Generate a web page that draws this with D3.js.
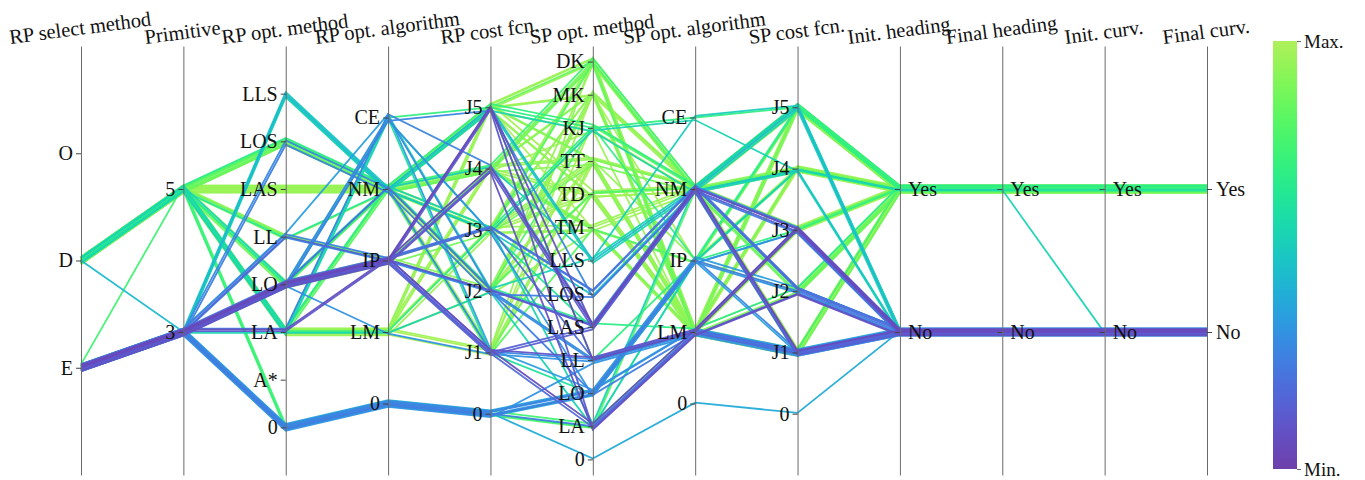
<!DOCTYPE html>
<html>
<head>
<meta charset="utf-8">
<script src="https://cdn.jsdelivr.net/npm/d3@7"></script>
<style>
  body { margin: 0; background: #fff; }
  svg { display: block; }
  text { font-family: "Liberation Serif", "Times New Roman", serif; fill: #111; }
</style>
</head>
<body>
<svg id="chart" width="1365" height="480"></svg>
<script>
// Dimensions of the survey, left to right
const dimensions = [
  "RP select method", "Primitive", "RP opt. method", "RP opt. algorithm",
  "RP cost fcn.", "SP opt. method", "SP opt. algorithm", "SP cost fcn.",
  "Init. heading", "Final heading", "Init. curv.", "Final curv."
];

// Category ticks of each dimension, top to bottom
const rpSelectTicks   = ["O", "D", "E"];
const primitiveTicks  = ["5", "3"];
const rpMethodTicks   = ["LLS", "LOS", "LAS", "LL", "LO", "LA", "A*", "0"];
const rpAlgoTicks     = ["CE", "NM", "IP", "LM", "0"];
const rpCostTicks     = ["J5", "J4", "J3", "J2", "J1", "0"];
const spMethodTicks   = ["DK", "MK", "KJ", "TT", "TD", "TM", "LLS", "LOS", "LAS", "LL", "LO", "LA", "0"];
const spAlgoTicks     = ["CE", "NM", "IP", "LM", "0"];
const spCostTicks     = ["J5", "J4", "J3", "J2", "J1", "0"];
const yesNoTicks      = ["Yes", "No"];
const colorBarTicks   = ["Max.", "Min."];

const tickSets = [
  rpSelectTicks, primitiveTicks, rpMethodTicks, rpAlgoTicks, rpCostTicks,
  spMethodTicks, spAlgoTicks, spCostTicks, yesNoTicks, yesNoTicks, yesNoTicks, yesNoTicks
];

// One row per surveyed approach (values in dimension order)
const records = [
  ["D","5","LAS","NM","J5","DK","NM","J5","Yes","Yes","Yes","Yes"],
  ["D","5","LAS","NM","J5","MK","LM","J1","Yes","Yes","Yes","Yes"],
  ["D","5","LAS","NM","J5","KJ","NM","J4","Yes","Yes","Yes","Yes"],
  ["D","5","LAS","NM","J5","TT","LM","J4","Yes","Yes","Yes","Yes"],
  ["D","5","LAS","NM","J4","TD","NM","J4","Yes","Yes","Yes","Yes"],
  ["D","5","LAS","NM","J4","MK","NM","J3","Yes","Yes","Yes","Yes"],
  ["D","5","LAS","NM","J3","TD","LM","J1","Yes","Yes","Yes","Yes"],
  ["D","5","LAS","NM","J3","TM","NM","J5","Yes","Yes","Yes","Yes"],
  ["D","5","LAS","NM","J3","TT","LM","J3","Yes","Yes","Yes","Yes"],
  ["D","5","LAS","NM","J1","DK","LM","J2","Yes","Yes","Yes","Yes"],
  ["D","5","LOS","NM","J5","DK","NM","J4","Yes","Yes","Yes","Yes"],
  ["D","5","LOS","NM","J5","TD","LM","J5","Yes","Yes","Yes","Yes"],
  ["D","5","LOS","NM","J4","MK","LM","J4","Yes","Yes","Yes","Yes"],
  ["D","5","LOS","NM","J3","TM","LM","J1","Yes","Yes","Yes","Yes"],
  ["D","5","LOS","NM","J2","KJ","NM","J5","Yes","Yes","Yes","Yes"],
  ["D","5","LOS","NM","J3","DK","NM","J2","Yes","Yes","Yes","Yes"],
  ["D","5","LA","LM","J5","DK","LM","J5","Yes","Yes","Yes","Yes"],
  ["D","5","LA","LM","J5","MK","NM","J4","Yes","Yes","Yes","Yes"],
  ["D","5","LA","LM","J4","TT","NM","J1","Yes","Yes","Yes","Yes"],
  ["D","5","LA","LM","J4","TD","LM","J4","Yes","Yes","Yes","Yes"],
  ["D","5","LA","LM","J3","TM","LM","J1","Yes","Yes","Yes","Yes"],
  ["D","5","LA","LM","J3","KJ","IP","J5","Yes","Yes","Yes","Yes"],
  ["D","5","LA","LM","J1","TT","LM","J2","Yes","Yes","Yes","Yes"],
  ["D","5","LA","NM","J2","TD","NM","J3","Yes","Yes","Yes","Yes"],
  ["D","5","LA","NM","J1","TM","IP","J4","Yes","Yes","Yes","Yes"],
  ["D","5","LA","CE","J2","LLS","NM","J5","No","No","No","No"],
  ["D","5","LO","NM","J3","DK","NM","J5","Yes","Yes","Yes","Yes"],
  ["D","5","LO","IP","J2","MK","LM","J1","Yes","Yes","Yes","Yes"],
  ["D","5","LO","CE","J5","KJ","CE","J5","Yes","Yes","Yes","Yes"],
  ["D","5","LO","IP","J3","TT","NM","J2","Yes","Yes","Yes","Yes"],
  ["D","5","LL","IP","J2","TD","LM","J3","Yes","Yes","Yes","Yes"],
  ["D","5","LL","NM","J4","TM","IP","J5","Yes","Yes","Yes","Yes"],
  ["D","5","LL","IP","J3","TT","NM","J4","Yes","Yes","Yes","Yes"],
  ["D","5","0","0","0","LA","NM","J4","Yes","Yes","Yes","Yes"],
  ["D","5","0","0","0","LA","LM","J1","Yes","Yes","Yes","Yes"],
  ["D","5","0","0","0","LA","IP","J5","Yes","Yes","Yes","Yes"],
  ["E","5","LA","NM","J4","DK","NM","J5","Yes","Yes","Yes","Yes"],
  ["D","3","LLS","NM","J5","LLS","NM","J5","No","No","No","No"],
  ["D","5","LAS","NM","J2","DK","NM","J1","Yes","Yes","Yes","Yes"],
  ["D","5","LAS","NM","J1","MK","NM","J5","Yes","Yes","Yes","Yes"],
  ["D","5","LAS","NM","J4","KJ","LM","J2","Yes","Yes","Yes","Yes"],
  ["D","5","LAS","NM","J2","TT","NM","J3","Yes","Yes","Yes","Yes"],
  ["D","5","LAS","NM","J5","TM","LM","J4","Yes","Yes","Yes","Yes"],
  ["D","5","LA","LM","J3","DK","LM","J4","Yes","Yes","Yes","Yes"],
  ["D","5","LA","LM","J2","MK","LM","J3","Yes","Yes","Yes","Yes"],
  ["D","5","LA","LM","J5","TD","NM","J1","Yes","Yes","Yes","Yes"],
  ["D","5","LA","LM","J4","TM","NM","J4","Yes","Yes","Yes","Yes"],
  ["D","5","LOS","NM","J4","TT","LM","J5","Yes","Yes","Yes","Yes"],
  ["D","5","LOS","NM","J1","TD","NM","J2","Yes","Yes","Yes","Yes"],
  ["D","5","LAS","NM","J3","KJ","NM","J1","Yes","Yes","Yes","Yes"],
  ["D","5","LA","LM","J1","TD","LM","J4","Yes","Yes","Yes","Yes"],
  ["D","5","LAS","NM","J5","DK","LM","J3","Yes","Yes","Yes","Yes"],
  ["D","5","LOS","NM","J3","MK","NM","J1","Yes","Yes","Yes","Yes"],
  ["D","5","LO","NM","J4","TM","LM","J2","Yes","Yes","Yes","Yes"],
  ["D","5","LA","NM","J5","KJ","NM","J5","Yes","Yes","Yes","Yes"],
  ["D","5","LL","IP","J4","DK","LM","J5","Yes","Yes","Yes","Yes"],
  ["D","5","LAS","NM","J2","TM","NM","J5","Yes","Yes","Yes","Yes"],
  ["D","5","LAS","NM","J1","TT","IP","J4","Yes","Yes","Yes","Yes"],
  ["D","5","LA","CE","J3","KJ","CE","J4","No","No","No","No"],
  ["D","5","LOS","NM","J5","TT","NM","J5","Yes","Yes","Yes","Yes"],
  ["D","5","LAS","NM","J4","DK","NM","J4","Yes","Yes","Yes","Yes"],
  ["D","5","LAS","NM","J3","MK","LM","J5","Yes","Yes","Yes","Yes"],
  ["D","5","LA","LM","J2","TT","LM","J1","Yes","Yes","Yes","Yes"],
  ["D","5","LA","LM","J1","KJ","NM","J3","Yes","Yes","Yes","Yes"],
  ["D","5","LAS","NM","J2","MK","IP","J2","Yes","Yes","Yes","Yes"],
  ["D","5","LOS","NM","J4","DK","LM","J1","Yes","Yes","Yes","Yes"],
  ["D","5","LA","LM","J3","TD","NM","J5","Yes","Yes","Yes","Yes"],
  ["D","5","LAS","NM","J5","TD","NM","J4","Yes","Yes","Yes","Yes"],
  ["D","5","LA","NM","J4","TT","LM","J4","Yes","Yes","Yes","Yes"],
  ["D","5","LL","NM","J3","LAS","NM","J4","Yes","Yes","Yes","Yes"],
  ["D","5","LO","NM","J3","LA","NM","J5","No","No","No","No"],
  ["D","5","LA","CE","J1","LO","IP","J4","Yes","Yes","Yes","Yes"],
  ["D","5","LOS","NM","J2","LAS","LM","J2","Yes","Yes","Yes","Yes"],
  ["D","5","LO","NM","J5","LL","IP","J3","Yes","Yes","Yes","Yes"],
  ["E","3","LLS","NM","J5","KJ","NM","J4","No","No","No","No"],
  ["E","3","LO","IP","J5","LAS","NM","J3","No","No","No","No"],
  ["E","3","LO","IP","J5","LA","LM","J2","No","No","No","No"],
  ["E","3","LO","IP","J4","LAS","NM","J1","No","No","No","No"],
  ["E","3","LO","IP","J4","LAS","NM","J3","No","No","No","No"],
  ["E","3","LO","IP","J1","LL","LM","J3","No","No","No","No"],
  ["E","3","LO","IP","J1","LA","LM","J1","No","No","No","No"],
  ["E","3","LO","IP","J3","LOS","NM","J2","No","No","No","No"],
  ["E","3","LO","IP","J2","LO","IP","J2","No","No","No","No"],
  ["E","3","LO","CE","J5","LOS","NM","J1","No","No","No","No"],
  ["E","3","LO","CE","J2","LL","LM","J1","No","No","No","No"],
  ["E","3","LO","CE","J3","LO","IP","J3","No","No","No","No"],
  ["E","3","LO","NM","J2","LAS","NM","J2","No","No","No","No"],
  ["E","3","LO","LM","J1","LL","LM","J1","No","No","No","No"],
  ["E","3","LL","IP","J3","LOS","NM","J3","No","No","No","No"],
  ["E","3","LL","IP","J2","LL","LM","J1","No","No","No","No"],
  ["E","3","LL","CE","J1","LO","IP","J2","No","No","No","No"],
  ["E","3","LL","IP","J1","LAS","NM","J1","No","No","No","No"],
  ["E","3","LOS","NM","J2","LOS","NM","J3","No","No","No","No"],
  ["E","3","LOS","NM","J1","LL","LM","J1","No","No","No","No"],
  ["E","3","LLS","NM","J5","LLS","NM","J5","No","No","No","No"],
  ["E","3","LLS","NM","J4","LLS","CE","J5","No","No","No","No"],
  ["E","3","LLS","NM","J3","LOS","NM","J4","No","No","No","No"],
  ["E","3","LA","IP","J1","LA","LM","J3","No","No","No","No"],
  ["E","3","LA","LM","J2","LA","IP","J4","Yes","Yes","No","No"],
  ["E","3","LA","CE","J4","LAS","NM","J2","No","No","No","No"],
  ["E","3","LO","IP","J5","LL","LM","J3","No","No","No","No"],
  ["E","3","LO","IP","J4","LA","LM","J2","No","No","No","No"],
  ["E","3","LA","IP","J2","LAS","NM","J3","No","No","No","No"],
  ["E","3","LO","IP","J1","LAS","NM","J1","No","No","No","No"],
  ["E","3","LO","IP","J3","LL","LM","J1","No","No","No","No"],
  ["E","3","0","0","0","LO","IP","J2","No","No","No","No"],
  ["E","3","0","0","0","LO","LM","J1","No","No","No","No"],
  ["E","3","0","0","0","LO","IP","J1","No","No","No","No"],
  ["E","3","0","0","0","LO","LM","J1","No","No","No","No"],
  ["E","3","0","0","0","LA","LM","J1","No","No","No","No"],
  ["E","3","0","0","0","LL","LM","J1","No","No","No","No"],
  ["E","3","0","0","0","0","0","0","No","No","No","No"],
  ["E","3","0","0","0","LO","IP","J3","No","No","No","No"],
  ["E","3","0","0","0","LO","IP","J1","No","No","No","No"],
  ["E","3","0","0","0","LO","LM","J1","No","No","No","No"]
];

// Normalised score of each approach (0 = Min., 1 = Max.)
const scores = [
  0.97, 0.99, 0.96, 0.98, 0.97, 1.00, 0.98, 0.96, 0.97, 0.95,
  0.85, 0.93, 0.90, 0.95, 0.80, 0.84, 0.95, 0.95, 0.97, 0.98,
  0.96, 0.70, 0.99, 0.80, 0.82, 0.55, 0.83, 0.92, 0.70, 0.88,
  0.95, 0.90, 0.93, 0.80, 0.75, 0.72, 0.75, 0.45, 0.95, 0.98,
  0.96, 0.99, 1.00, 0.96, 0.95, 0.98, 0.96, 0.92, 0.88, 0.97,
  0.99, 0.96, 0.93, 0.90, 0.70, 0.87, 0.97, 0.94, 0.55, 0.90,
  0.96, 0.99, 0.99, 0.97, 0.98, 0.86, 0.97, 0.99, 0.94, 0.65,
  0.55, 0.62, 0.68, 0.70,
  0.55, 0.08, 0.12, 0.05, 0.15, 0.10, 0.18, 0.22, 0.26, 0.28,
  0.30, 0.33, 0.20, 0.32, 0.27, 0.30, 0.36, 0.16, 0.26, 0.29,
  0.55, 0.52, 0.50, 0.07, 0.55, 0.28, 0.06, 0.09, 0.12, 0.14,
  0.20, 0.33, 0.30, 0.36, 0.38, 0.25, 0.32, 0.40, 0.42, 0.28,
  0.25
];

// ---- layout ----
const yTop = 46, yBottom = 475;
const svg = d3.select("#chart");
const serif = "'Liberation Serif', 'Times New Roman', serif";

const x = d3.scalePoint().domain(d3.range(dimensions.length)).range([81, 1207]);
const axisPadding = dimensions.map(d => d === "SP opt. method" ? 0.47 : 1);
const y = tickSets.map((t, i) =>
  d3.scalePoint().domain(t).range([yTop, yBottom]).padding(axisPadding[i]));
const color = d3.scaleSequential(d3.interpolateCool).domain([0, 1]);

// lines sharing a category are fanned out slightly so bundles stay readable
const fan = i => ((i * 4) % 9 - 4) * 0.85;

// high scores first, so the low-score lines sit on top
const order = d3.range(records.length).sort((a, b) => scores[b] - scores[a] || a - b);

const line = d3.line();
svg.append("g")
  .attr("fill", "none")
  .selectAll("path")
  .data(order)
  .join("path")
  .attr("d", i => line(records[i].map((v, k) => [x(k), y[k](v) + fan(i)])))
  .attr("stroke", i => color(scores[i]))
  .attr("stroke-width", 1.8)
  .attr("stroke-opacity", 0.95);

// ---- axes ----
const tilt = 7.5;
dimensions.forEach((name, k) => {
  const last = k === dimensions.length - 1;
  const gen = (last ? d3.axisRight(y[k]) : d3.axisLeft(y[k]))
    .tickSize(5).tickSizeOuter(0).tickPadding(3);
  const g = svg.append("g")
    .attr("transform", `translate(${x(k)},0)`)
    .call(gen);
  g.select(".domain").attr("stroke", "#6b6b6b").attr("stroke-width", 1);
  g.selectAll(".tick line").attr("stroke", "#444");
  g.selectAll(".tick text")
    .style("font-family", serif)
    .attr("font-size", 20)
    .attr("fill", "#111");
  if (k >= 8 && !last) {
    g.selectAll(".tick text").attr("x", 8).attr("text-anchor", "start");
  }
  if (last) g.selectAll(".tick text").attr("x", 9);

  // title: rotated, its lower-left end resting just above the axis top
  const t = svg.append("text")
    .attr("text-anchor", "middle")
    .attr("font-size", 20.5)
    .text(name);
  const w = t.node().getComputedTextLength();
  const cy = 44 - (w / 2) * Math.sin(tilt * Math.PI / 180);
  t.attr("transform", `translate(${x(k)},${cy}) rotate(${-tilt})`);
});

// ---- colour bar ----
const barX = 1273, barW = 24, barTop = 41, barBottom = 469;
const grad = svg.append("defs").append("linearGradient")
  .attr("id", "coolbar").attr("x1", 0).attr("y1", 1).attr("x2", 0).attr("y2", 0);
d3.range(0, 1.0001, 0.05).forEach(t =>
  grad.append("stop").attr("offset", t).attr("stop-color", color(t)));
svg.append("rect")
  .attr("x", barX).attr("y", barTop)
  .attr("width", barW).attr("height", barBottom - barTop)
  .attr("fill", "url(#coolbar)");

const barScale = d3.scalePoint().domain(colorBarTicks).range([barTop, barBottom]);
const barAxis = svg.append("g")
  .attr("transform", `translate(${barX + barW},0)`)
  .call(d3.axisRight(barScale).tickSize(4).tickSizeOuter(0).tickPadding(3));
barAxis.select(".domain").remove();
barAxis.selectAll(".tick line").attr("stroke", "#666");
barAxis.selectAll(".tick text")
  .style("font-family", serif)
  .attr("font-size", 19).attr("fill", "#111");
</script>
</body>
</html>
